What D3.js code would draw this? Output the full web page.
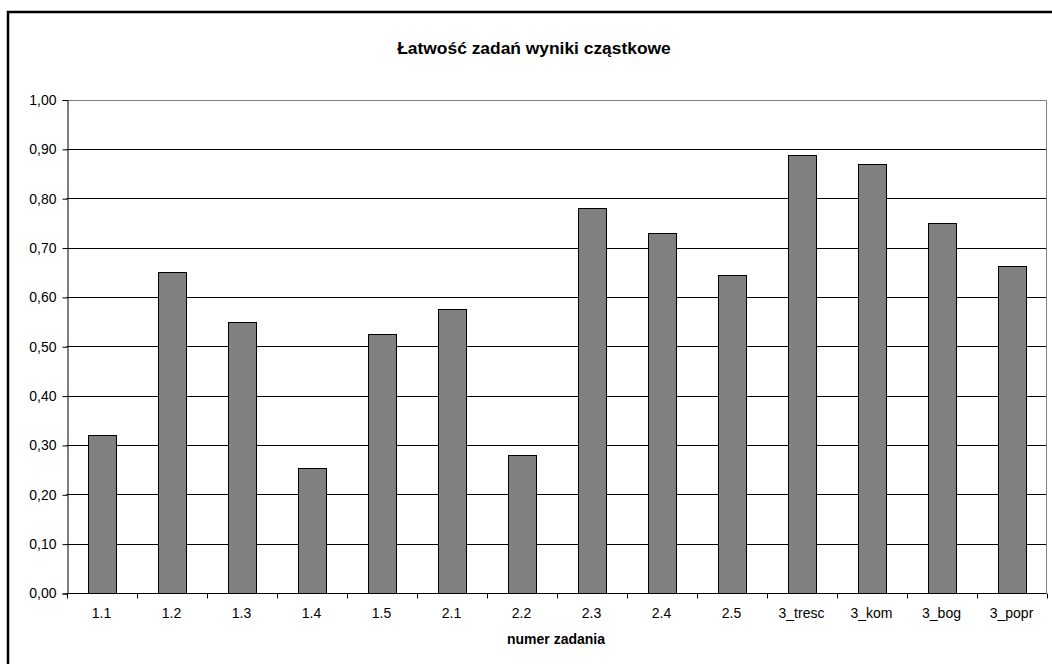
<!DOCTYPE html>
<html>
<head>
<meta charset="utf-8">
<script src="https://cdn.jsdelivr.net/npm/d3@7"></script>
<style>
  html, body { margin: 0; padding: 0; background: #fff; }
  svg { display: block; }
  text { font-family: "Liberation Sans", Arial, sans-serif; fill: #000; }
</style>
</head>
<body>
<svg id="chart" width="1052" height="664"></svg>
<script>
const categories = ["1.1","1.2","1.3","1.4","1.5","2.1","2.2","2.3","2.4","2.5","3_tresc","3_kom","3_bog","3_popr"];
const values = [0.32, 0.65, 0.55, 0.254, 0.525, 0.576, 0.279, 0.78, 0.729, 0.644, 0.888, 0.869, 0.749, 0.663];
const yTicks = [0, 0.1, 0.2, 0.3, 0.4, 0.5, 0.6, 0.7, 0.8, 0.9, 1.0];
const titleText = "Łatwość zadań wyniki cząstkowe";
const xTitle = "numer zadania";

const svg = d3.select("#chart");
const W = 1052, H = 664;
const plot = { left: 66.5, right: 1046.5, top: 99.5, bottom: 593 };

svg.append("rect").attr("width", W).attr("height", H).attr("fill", "#fff");
// outer chart border
svg.append("rect").attr("x", 8).attr("y", 12).attr("width", 1200).attr("height", 800)
  .attr("fill", "none").attr("stroke", "#000").attr("stroke-width", 2.5);

const x = d3.scaleBand().domain(categories).range([plot.left, plot.right])
  .paddingInner(0.6).paddingOuter(0.3);
const xb = d3.scaleBand().domain(categories).range([plot.left, plot.right]).padding(0);
const y = d3.scaleLinear().domain([0, 1]).range([plot.bottom, plot.top]);

// gridlines
svg.append("g").selectAll("line").data(yTicks.filter(d => d > 0)).join("line")
  .attr("x1", plot.left).attr("x2", plot.right)
  .attr("y1", d => Math.round(y(d)) + 0.5).attr("y2", d => Math.round(y(d)) + 0.5)
  .attr("stroke", d => d === 1 ? "#808080" : "#000").attr("stroke-width", 1);

// right border of plot area
svg.append("line").attr("x1", plot.right).attr("x2", plot.right)
  .attr("y1", Math.round(y(1)) + 0.5).attr("y2", plot.bottom)
  .attr("stroke", "#808080").attr("stroke-width", 1);

// bars
svg.append("g").selectAll("rect").data(categories).join("rect")
  .attr("x", d => Math.round(x(d)) + 0.5)
  .attr("y", (d, i) => Math.round(y(values[i])) + 0.5)
  .attr("width", Math.round(x.bandwidth()))
  .attr("height", (d, i) => Math.round(y(0)) - Math.round(y(values[i])))
  .attr("fill", "#808080").attr("stroke", "#000").attr("stroke-width", 1);

// y axis
const yAxis = d3.axisLeft(y).tickValues(yTicks).tickSize(5).tickPadding(6)
  .tickFormat(d => d3.format(".2f")(d).replace(".", ","));
const gy = svg.append("g").attr("transform", `translate(${Math.round(plot.left) + 0.5},0.5)`).call(yAxis);
gy.select(".domain").attr("stroke", "#000");
gy.selectAll(".tick line").attr("stroke", "#000");
gy.selectAll("text").attr("font-size", "14px").attr("font-family", "Liberation Sans, Arial, sans-serif");

// x axis baseline
svg.append("line").attr("x1", plot.left).attr("x2", plot.right)
  .attr("y1", Math.round(y(0)) + 0.5).attr("y2", Math.round(y(0)) + 0.5)
  .attr("stroke", "#000");

// x ticks at category boundaries
const bounds = categories.map(c => xb(c)).concat([plot.right]);
svg.append("g").selectAll("line").data(bounds).join("line")
  .attr("x1", d => Math.round(d) + 0.5).attr("x2", d => Math.round(d) + 0.5)
  .attr("y1", Math.round(y(0)) + 0.5).attr("y2", Math.round(y(0)) + 5.5)
  .attr("stroke", "#000");

// x labels
svg.append("g").selectAll("text").data(categories).join("text")
  .attr("x", d => x(d) + x.bandwidth() / 2)
  .attr("y", 618)
  .attr("text-anchor", "middle").attr("font-size", "14px")
  .text(d => d);

// titles
svg.append("text").attr("x", 534).attr("y", 54).attr("text-anchor", "middle")
  .attr("font-size", "17.4px").attr("font-weight", "bold").text(titleText);
svg.append("text").attr("x", 556).attr("y", 644).attr("text-anchor", "middle")
  .attr("font-size", "14px").attr("font-weight", "bold").text(xTitle);
</script>
</body>
</html>
